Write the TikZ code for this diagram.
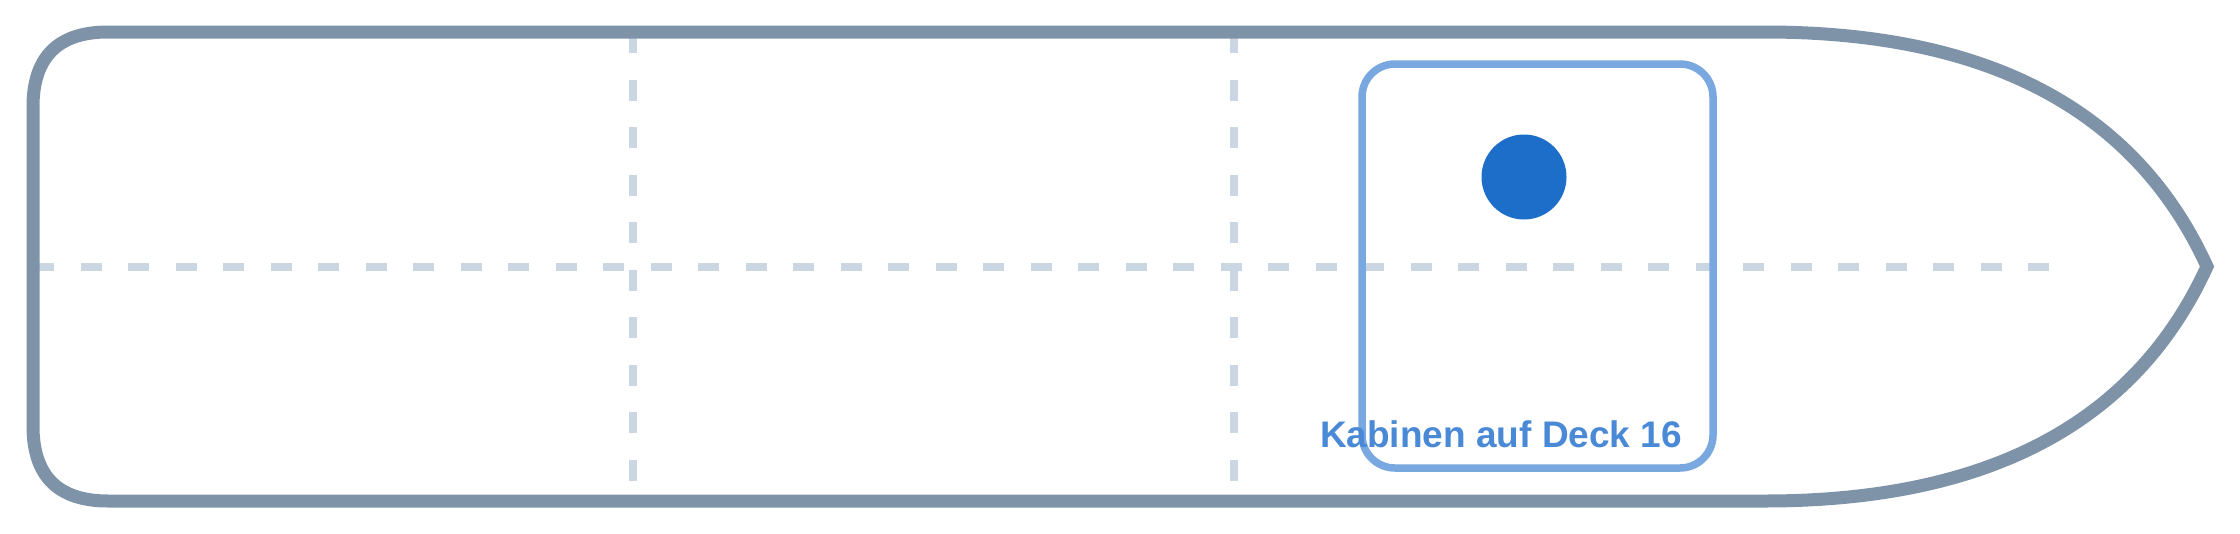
\documentclass[tikz,border=0pt]{standalone}
\usepackage{fontspec}
\setmainfont{Liberation Sans}
\definecolor{hullc}{HTML}{7F93A8}
\definecolor{gridc}{HTML}{CAD6E2}
\definecolor{cabinc}{HTML}{78A8DF}
\definecolor{dotc}{HTML}{1D6EC8}
\definecolor{labelc}{HTML}{4A89D6}
\tikzset{
  hull/.style={draw=hullc, line width=13pt, line join=miter},
  gridline/.style={draw=gridc, line width=8pt, dash pattern=on 21pt off 26.5pt},
  cabin/.style={draw=cabinc, line width=7.5pt, rounded corners=33pt},
  dotmark/.style={fill=dotc, draw=none},
  cabinlabel/.style={text=labelc, font=\bfseries\fontsize{37}{40}\selectfont, anchor=base, inner sep=0pt}
}
\begin{document}
\begin{tikzpicture}[x=1pt, y=-1pt]
\useasboundingbox (0,0) rectangle (2240,533);
% grid lines
\coordinate (hl) at (33,266.5);
\coordinate (hr) at (2070,266.5);
\coordinate (v1t) at (633,32);
\coordinate (v1b) at (633,501);
\coordinate (v2t) at (1234,32);
\coordinate (v2b) at (1234,501);
\draw[gridline] (hl) -- (hr);
\draw[gridline] (v1t) -- (v1b);
\draw[gridline] (v2t) -- (v2b);
% hull
\coordinate (tl) at (108,32);
\coordinate (tr) at (1765,32);
\coordinate (tip) at (2207,266.5);
\coordinate (br) at (1765,501);
\coordinate (bl) at (108,501);
\draw[hull] (tl) -- (tr) .. controls (1988.3,32) and (2135.7,110.2) .. (tip)
  .. controls (2135.7,422.8) and (1988.3,501) .. (br) -- (bl)
  .. controls (58,501) and (33,476) .. (33,426) -- (33,107)
  .. controls (33,57) and (58,32) .. (tl) -- cycle;
% cabin
\draw[cabin] (1362,64) rectangle (1713,468);
\node[dotmark, circle, minimum size=85pt, inner sep=0pt] (dot) at (1524,177) {};
\node[cabinlabel] (label) at (1501,447) {Kabinen auf Deck 16};
\end{tikzpicture}
\end{document}
